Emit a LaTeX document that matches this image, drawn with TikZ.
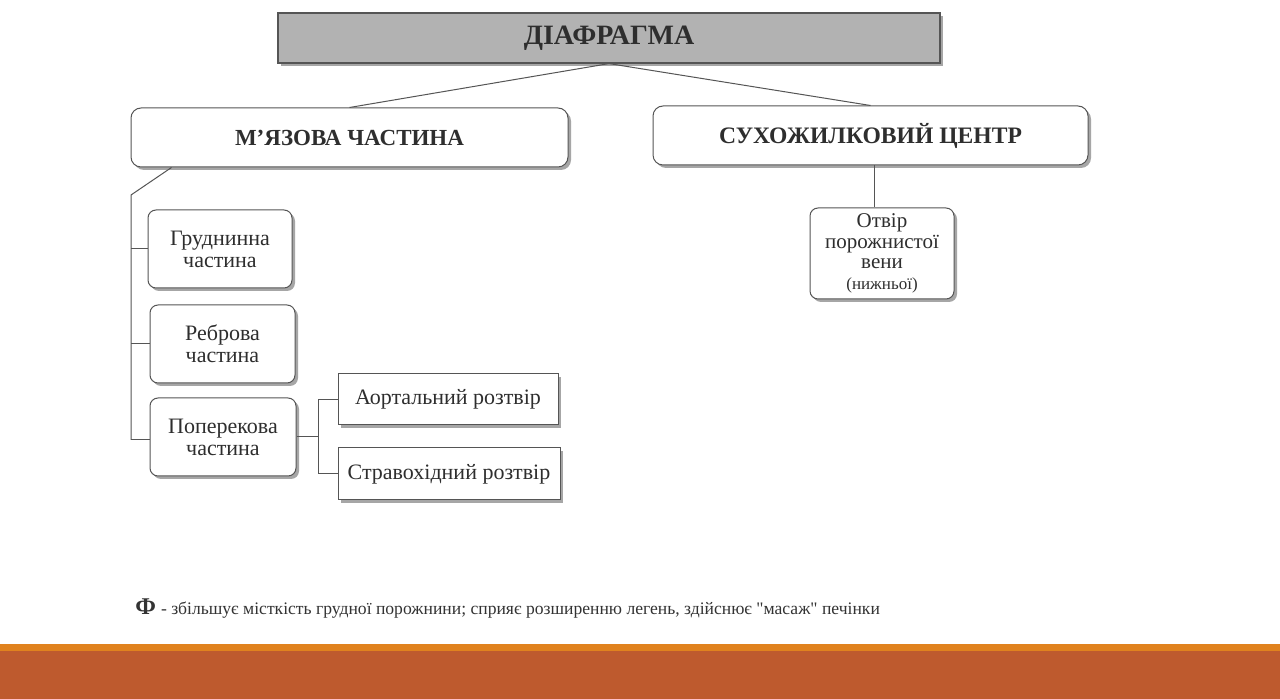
\documentclass[tikz,border=0pt]{standalone}
\usepackage{fontspec}
\setmainfont[Ligatures=TeXOff]{Liberation Serif}
\usetikzlibrary{shadows}
\definecolor{barstripe}{HTML}{E0821E}
\definecolor{barfill}{HTML}{BE5A2E}
\definecolor{boxline}{HTML}{555555}
\definecolor{ink}{HTML}{2E2E2E}
\begin{document}
\begin{tikzpicture}[x=0.5pt,y=-0.5pt,
    boxshade/.style={drop shadow={shadow xshift=1.5pt,shadow yshift=-1.5pt,fill=black!35,opacity=1}},
    part/.style={draw=boxline,line width=0.5pt,fill=white,rounded corners=4pt,boxshade,text=ink,
        align=center,inner sep=1pt,font=\fontsize{11}{11}\selectfont},
    hole/.style={draw=boxline,line width=0.5pt,fill=white,boxshade,text=ink,
        align=center,inner sep=1pt,font=\fontsize{11}{11}\selectfont},
    link/.style={draw=boxline,line width=0.5pt}]
    \useasboundingbox (0,0) rectangle (1280,699);
    \fill[white] (0,0) rectangle (1280,699);

    \node[draw=boxline,line width=0.6pt,fill=black!30,boxshade,text=ink,
        minimum width=331pt,minimum height=25pt,
        font=\fontsize{14}{14}\selectfont\bfseries] (diaf) at (609,38) {ДІАФРАГМА};
    \node[part,rounded corners=5pt,minimum width=218.5pt,minimum height=29.5pt,
        font=\fontsize{11.5}{12}\selectfont\bfseries] (mus) at (349.5,137.5) {М’ЯЗОВА ЧАСТИНА};
    \node[part,rounded corners=5pt,minimum width=217.5pt,minimum height=29.5pt,
        font=\fontsize{11.8}{12}\selectfont\bfseries] (ten) at (870.5,135.5) {СУХОЖИЛКОВИЙ ЦЕНТР};
    \node[part,minimum width=72pt,minimum height=45.5pt,font=\fontsize{10.5}{10.3}\selectfont] (otv) at (882,253.5)
        {Отвір\\порожнистої\\вени\\[0.2pt]{\fontsize{8.5}{10}\selectfont(нижньої)}};
    \node[part,minimum width=72pt,minimum height=39pt] (hrud) at (220,249) {Груднинна\\частина};
    \node[part,minimum width=72.5pt,minimum height=39pt] (rebr) at (222.5,344) {Реброва\\частина};
    \node[part,minimum width=73pt,minimum height=39pt] (pop) at (223,437) {Поперекова\\частина};
    \node[hole,minimum width=110pt,minimum height=25.5pt] (aort) at (448,399.5) {Аортальний розтвір};
    \node[hole,minimum width=111pt,minimum height=26pt] (strav) at (449,474) {Стравохідний розтвір};

    \draw[link] (diaf.south) -- (mus.north);
    \draw[link] (diaf.south) -- (ten.north);
    \draw[link] ([xshift=-4pt]otv.north |- ten.south) -- ([xshift=-4pt]otv.north);

    \coordinate (bend) at (131,195);
    \draw[link] ([xshift=20.5pt]mus.south west) -- (bend) -- ([yshift=-1.5pt]bend |- pop.west);
    \draw[link] (bend |- hrud.west) -- (hrud.west);
    \draw[link] (bend |- rebr.west) -- (rebr.west);
    \draw[link] ([yshift=-1.5pt]bend |- pop.west) -- ([yshift=-1.5pt]pop.west);

    \coordinate (fork) at (318,437);
    \draw[link] (pop.east) -- (fork);
    \draw[link] (fork |- aort.west) -- (fork |- strav.west);
    \draw[link] (fork |- aort.west) -- (aort.west);
    \draw[link] (fork |- strav.west) -- (strav.west);

    \node[anchor=west,inner sep=0pt,text=black!80] (note) at (135,609)
        {{\fontsize{12}{12}\selectfont\bfseries Ф} {\fontsize{8.8}{10}\selectfont - збільшує місткість грудної порожнини; сприяє розширенню легень, здійснює "масаж" печінки}};

    \fill[barstripe] (0,644) rectangle (1280,651);
    \fill[barfill] (0,651) rectangle (1280,699);
\end{tikzpicture}
\end{document}
